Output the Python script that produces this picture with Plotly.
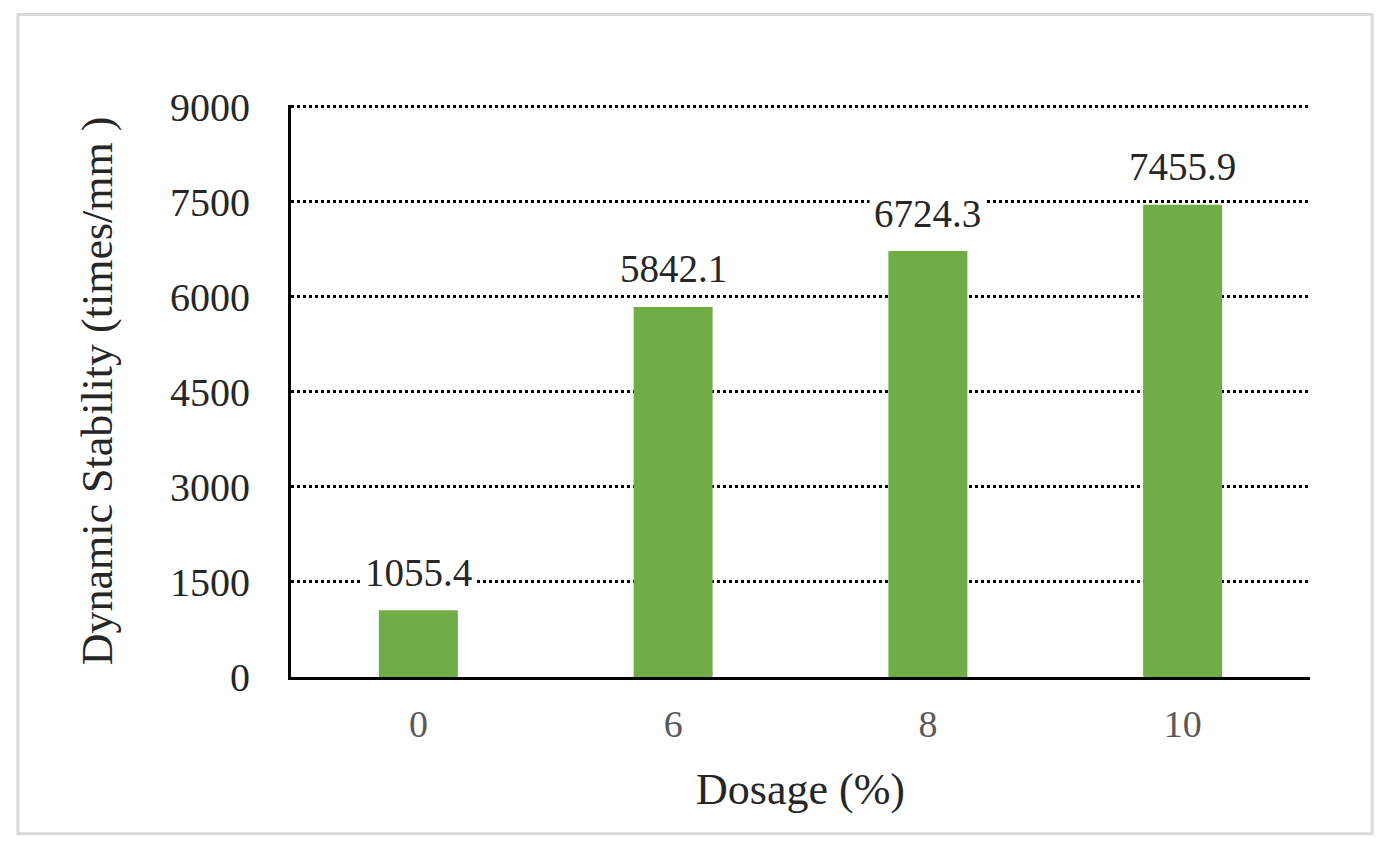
import plotly.graph_objects as go

# dosage levels and measured dynamic stability
dosage = ['0', '6', '8', '10']
stability = [1055.4, 5842.1, 6724.3, 7455.9]
y_ticks = [0, 1500, 3000, 4500, 6000, 7500, 9000]

serif = 'Liberation Serif, Times New Roman, serif'

fig = go.Figure()
fig.add_trace(go.Bar(x=dosage, y=stability, marker_color='#70AD47',
                     marker_line_width=0, showlegend=False))

# data labels with white box, like excel
# (numeric-looking strings get read as indices on a category axis, so use the index)
for i, v in enumerate(stability):
    fig.add_annotation(x=i, y=v, text=f'{v:.1f}', showarrow=False,
                       yanchor='middle', yshift=38, bgcolor='white', borderpad=4,
                       font=dict(family=serif, size=39, color='#262626'))

# light grey frame around the whole picture
fig.add_shape(type='rect', xref='paper', yref='paper',
              x0=-0.268, x1=1.061, y0=-0.274, y1=1.158,
              line=dict(color='#d9d9d9', width=3), layer='below')

fig.update_layout(
    width=1389, height=852,
    margin=dict(l=283, r=87, t=97, b=183),
    paper_bgcolor='white', plot_bgcolor='white',
    bargap=0.69,
    font=dict(family=serif),
)
fig.update_xaxes(
    type='category', range=[-0.5, len(dosage) - 0.5],
    showline=True, linecolor='black', linewidth=3, showgrid=False,
    ticks='', ticklabelstandoff=11,
    tickfont=dict(family=serif, size=38, color='#595959'),
    title=dict(text='Dosage (%)', font=dict(family=serif, size=44, color='#262626'), standoff=30),
)
fig.update_yaxes(
    range=[0, 9030], tickvals=y_ticks,
    showline=True, linecolor='black', linewidth=3,
    showgrid=True, gridcolor='black', gridwidth=2.5, griddash='dot',
    zeroline=False, ticks='', ticklabelstandoff=30,
    tickfont=dict(family=serif, size=40, color='#262626'),
    title=dict(text='Dynamic Stability (times/mm )', font=dict(family=serif, size=44, color='#262626'), standoff=44),
)

fig.write_html('out.html')
